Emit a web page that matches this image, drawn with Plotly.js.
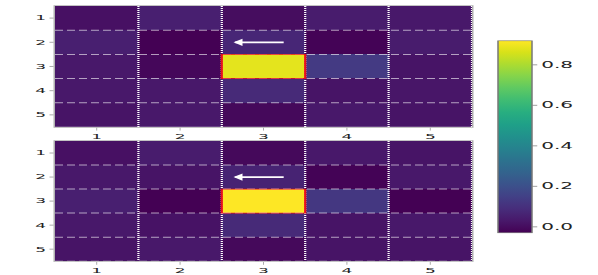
<!DOCTYPE html>
<html>
<head>
<meta charset="utf-8">
<script src="https://cdn.plot.ly/plotly-3.0.1.min.js"></script>
<style>
  html, body { margin: 0; padding: 0; overflow: hidden; background: #fff; }
  #wrap { width: 598px; height: 275px; overflow: hidden; position: relative; }
  #plot { width: 598px; height: 688px; transform-origin: 0 0; }
</style>
</head>
<body>
<div id="wrap"><div id="plot"></div></div>
<script>
// ---- data ----
const xCats = [1, 2, 3, 4, 5];
const yCats = [1, 2, 3, 4, 5];
const xTickText = ['1', '2', '3', '4', '5'];
const yTickText = ['1', '2', '3', '4', '5'];

const topZ = [
  [0.01, 0.05, 0.00, 0.04, 0.03],
  [0.05, -0.03, 0.07, -0.025, 0.04],
  [0.03, -0.015, 0.88, 0.13, 0.02],
  [0.03, 0.03, 0.08, 0.02, 0.025],
  [0.02, 0.03, -0.01, 0.03, 0.02]
];
const bottomZ = [
  [0.01, 0.04, -0.01, 0.03, 0.02],
  [0.03, 0.02, 0.06, -0.025, 0.03],
  [0.05, -0.03, 0.918, 0.12, -0.03],
  [0.03, 0.015, 0.08, 0.02, 0.03],
  [0.02, 0.03, -0.01, 0.02, 0.02]
];
const colorMin = -0.03;
const colorMax = 0.918;
const cbTickVals = [0, 0.2, 0.4, 0.6, 0.8];
const cbTickText = ['0.0', '0.2', '0.4', '0.6', '0.8'];

const highlightCell = [3, 3];       // [x, y]
const arrowTail = [3.26, 2];        // [x, y]
const arrowTip = [2.64, 2];         // [x, y]

// ---- build ----
const S = 0.4; // vertical squash of the reference image

function boundaries(cats) {
  const b = [];
  for (let i = 0; i < cats.length - 1; i++) b.push((cats[i] + cats[i + 1]) / 2);
  return b;
}
const xMin = xCats[0] - 0.5, xMax = xCats[xCats.length - 1] + 0.5;
const yMin = yCats[0] - 0.5, yMax = yCats[yCats.length - 1] + 0.5;

function gridShapes(xr, yr, bottomDash) {
  const shapes = [];
  const hs = boundaries(yCats);
  if (bottomDash) hs.push(yMax);
  hs.forEach(v => shapes.push({
    type: 'line', xref: xr, yref: yr, x0: xMin, x1: xMax, y0: v, y1: v, layer: 'above',
    line: { color: 'rgba(255,255,255,0.6)', width: 2.5, dash: '8px,4px' }
  }));
  const vs = boundaries(xCats).concat([xMax]);
  vs.forEach(v => shapes.push({
    type: 'line', xref: xr, yref: yr, x0: v, x1: v, y0: yMin, y1: yMax, layer: 'above',
    line: { color: 'rgba(255,255,255,1)', width: 2.2, dash: '2.5px,2.5px' }
  }));
  shapes.push({
    type: 'rect', xref: xr, yref: yr, layer: 'above',
    x0: highlightCell[0] - 0.5, x1: highlightCell[0] + 0.5,
    y0: highlightCell[1] - 0.5, y1: highlightCell[1] + 0.5,
    line: { color: '#e8101a', width: 2.2 }
  });
  return shapes;
}

function arrow(xr, yr) {
  return {
    xref: xr, yref: yr, axref: xr, ayref: yr,
    x: arrowTip[0], y: arrowTip[1], ax: arrowTail[0], ay: arrowTail[1],
    text: '', showarrow: true, arrowhead: 1, arrowsize: 0.67, arrowwidth: 4.5,
    arrowcolor: 'white'
  };
}

const traces = [
  { type: 'heatmap', x: xCats, y: yCats, z: topZ, coloraxis: 'coloraxis', xaxis: 'x', yaxis: 'y', hoverinfo: 'skip' },
  { type: 'heatmap', x: xCats, y: yCats, z: bottomZ, coloraxis: 'coloraxis', xaxis: 'x2', yaxis: 'y2', hoverinfo: 'skip' }
];

const fontFam = 'DejaVu Sans, sans-serif';
function xAxis(anchor) {
  return {
    anchor: anchor, domain: [0, 1], range: [xMin, xMax],
    tickvals: xCats, ticktext: xTickText, ticks: 'outside', ticklen: 7, tickwidth: 1, tickcolor: '#888',
    tickfont: { family: fontFam, size: 17, color: '#222' },
    showgrid: false, zeroline: false, showline: true, mirror: true, linecolor: '#b0b0b0', linewidth: 2
  };
}
function yAxis(anchor, dom) {
  return {
    anchor: anchor, domain: dom, range: [yMax, yMin],
    tickvals: yCats, ticktext: yTickText, ticks: 'outside', ticklen: 4, tickwidth: 1, tickcolor: '#888',
    tickfont: { family: fontFam, size: 17, color: '#222' },
    showgrid: false, zeroline: false, showline: true, mirror: true, linecolor: '#b0b0b0', linewidth: 1.5
  };
}

const layout = {
  width: 598, height: 688,
  margin: { l: 55, r: 126, t: 15, b: 35, autoexpand: false },
  paper_bgcolor: '#fff', plot_bgcolor: '#fff',
  showlegend: false,
  xaxis: xAxis('y'),
  yaxis: yAxis('x', [0.526, 1]),
  xaxis2: xAxis('y2'),
  yaxis2: yAxis('x2', [0, 0.471]),
  coloraxis: {
    colorscale: 'Viridis', cmin: colorMin, cmax: colorMax,
    colorbar: {
      x: 1.062, xanchor: 'left', y: 0.487, yanchor: 'middle',
      len: 0.752, lenmode: 'fraction', thickness: 34, thicknessmode: 'pixels',
      xpad: 0, ypad: 0, outlinewidth: 1.5, outlinecolor: '#777',
      tickvals: cbTickVals, ticktext: cbTickText, ticks: 'outside', ticklen: 5, tickwidth: 1, tickcolor: '#777',
      tickfont: { family: fontFam, size: 20, color: '#222' }
    }
  },
  shapes: gridShapes('x', 'y', false).concat(gridShapes('x2', 'y2', true)),
  annotations: [arrow('x', 'y'), arrow('x2', 'y2')]
};

Plotly.newPlot('plot', traces, layout, { staticPlot: true, displayModeBar: false }).then(function () {
  document.getElementById('plot').style.transform = 'scaleY(' + S + ')';
});
</script>
</body>
</html>
